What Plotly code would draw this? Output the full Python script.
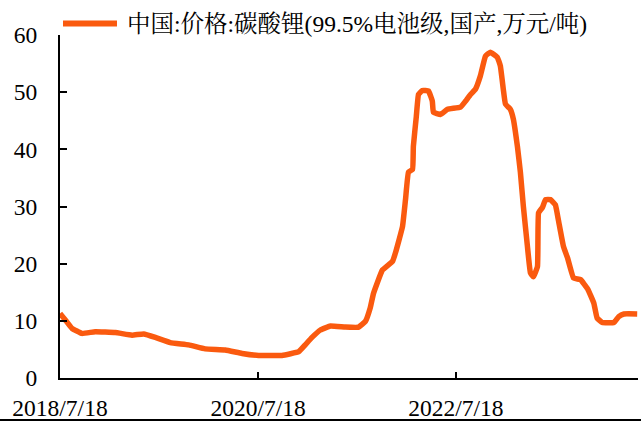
import plotly.graph_objects as go

dates = [
    "2018-07-18", "2018-08-06", "2018-08-31", "2018-10-07", "2018-11-25",
    "2019-02-07", "2019-04-10", "2019-05-23", "2019-07-05", "2019-08-29",
    "2019-11-05", "2020-01-05", "2020-03-19", "2020-05-20", "2020-07-20",
    "2020-10-14", "2020-12-15", "2021-01-08", "2021-02-02", "2021-03-05",
    "2021-04-11", "2021-06-05", "2021-07-24", "2021-08-18", "2021-09-05",
    "2021-09-17", "2021-10-20", "2021-11-26", "2021-12-07", "2022-01-02",
    "2022-01-13", "2022-01-24", "2022-02-08", "2022-02-11", "2022-02-22",
    "2022-03-02", "2022-03-16", "2022-04-08", "2022-04-22", "2022-04-26",
    "2022-05-22", "2022-06-17", "2022-08-04", "2022-08-22", "2022-09-10",
    "2022-09-28", "2022-10-16", "2022-11-04", "2022-11-22", "2022-12-18",
    "2022-12-29", "2023-01-09", "2023-01-17", "2023-02-04", "2023-02-15",
    "2023-03-02", "2023-03-13", "2023-03-24", "2023-04-08", "2023-04-19",
    "2023-04-30", "2023-05-15", "2023-05-19", "2023-06-02", "2023-06-14",
    "2023-07-02", "2023-07-20", "2023-07-31", "2023-08-19", "2023-09-03",
    "2023-09-25", "2023-10-21", "2023-11-16", "2023-12-09", "2023-12-21",
    "2024-01-09", "2024-02-21", "2024-03-10", "2024-03-29", "2024-05-17",
]
prices = [
    11.3, 10.2, 8.7, 7.8, 8.1,
    7.95, 7.5, 7.7, 7.1, 6.2,
    5.8, 5.1, 4.9, 4.3, 3.95,
    3.95, 4.6, 5.8, 7.1, 8.4,
    9.1, 8.9, 8.9, 9.9, 12.3,
    14.8, 18.9, 20.4, 21.9, 26.5,
    31.2, 36.0, 36.5, 40.5, 45.8,
    49.6, 50.3, 50.2, 48.4, 46.5,
    46.1, 47.0, 47.4, 48.4, 49.6,
    50.5, 52.8, 56.3, 57.0, 56.1,
    54.6, 50.5, 47.9, 47.0, 45.3,
    40.5, 36.0, 30.0, 23.0, 18.4,
    17.7, 19.5, 28.9, 29.8, 31.2,
    31.2, 30.3, 27.7, 23.0, 21.0,
    17.5, 17.2, 15.6, 13.1, 10.5,
    9.7, 9.7, 10.75, 11.2, 11.2,
]
x_range = ["2018-07-18", "2024-05-20"]
x_tick0 = "2018-07-18"
y_ticks = [0, 10, 20, 30, 40, 50, 60]
series_name = "中国:价格:碳酸锂(99.5%电池级,国产,万元/吨)"

LINE = "#FA5A0F"
FONT = "Liberation Serif, Noto Serif CJK SC, Noto Sans CJK SC, serif"

fig = go.Figure()
fig.add_trace(go.Scatter(
    x=dates, y=prices, mode="lines", name=series_name,
    line=dict(color=LINE, width=5.5, shape="spline", smoothing=0.3),
    showlegend=False,
))

fig.update_layout(
    width=641, height=421,
    margin=dict(l=60, r=3, t=35, b=43, autoexpand=False),
    paper_bgcolor="white", plot_bgcolor="white",
    font=dict(family=FONT, size=23.5, color="black"),
    xaxis=dict(
        type="date", range=x_range, tick0=x_tick0, dtick="M24",
        tickformat="%Y/%-m/%-d", ticks="inside", ticklen=6, tickwidth=2,
        tickcolor="black", showline=True, linecolor="black", linewidth=2,
        showgrid=False, zeroline=False, ticklabelstandoff=8, automargin=False,
        tickfont=dict(family=FONT, size=23.5),
    ),
    yaxis=dict(
        range=[0, 60], tickvals=y_ticks, ticks="inside", ticklen=7, tickwidth=2,
        tickcolor="black", showline=True, linecolor="black", linewidth=2,
        showgrid=False, zeroline=False, ticklabelstandoff=16, automargin=False,
        tickfont=dict(family=FONT, size=23.5),
    ),
    shapes=[
        dict(type="line", xref="paper", yref="paper", x0=0.0052, x1=0.0986,
             y0=1.0335, y1=1.0335, line=dict(color=LINE, width=6)),
        dict(type="line", xref="paper", yref="paper", x0=-0.11, x1=1.01,
             y0=-0.1224, y1=-0.1224, line=dict(color="black", width=2)),
    ],
    annotations=[
        dict(text=series_name, xref="paper", yref="paper", x=0.1125, y=1.0335,
             xanchor="left", yanchor="middle", showarrow=False,
             font=dict(family=FONT, size=23.5, color="black")),
    ],
)

fig.write_html(
    "out.html",
    config={"displayModeBar": False},
    post_script="document.body.style.margin='0';document.body.style.overflow='hidden';",
)
